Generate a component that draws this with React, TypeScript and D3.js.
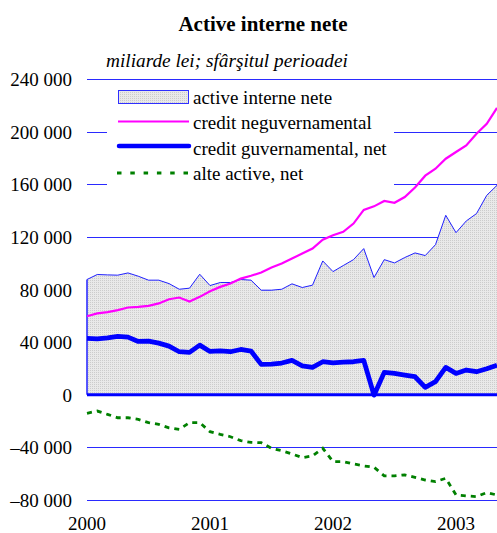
import React from "react";
import * as d3 from "d3";

const W = 497;
const H = 533;

const xTickLabels = ["2000", "2001", "2002", "2003"];
const xTickIndex = [0, 12, 24, 36];
const yTicks = [-80000, -40000, 0, 40000, 80000, 120000, 160000, 200000, 240000];

const activeInterne = [
  87600, 91400, 91100, 90900, 92600, 90100, 87100, 87100, 84500, 80200,
  81000, 91600, 83000, 85300, 85300, 87600, 87100, 79500, 79500, 80200,
  84300, 81500, 83300, 101700, 93600, 98200, 102700, 111100, 89100, 102700,
  100200, 104300, 107800, 105800, 114100, 136400, 123200, 132100, 137700, 151600,
  159200,
];

const creditNeguv = [
  59700, 61800, 62800, 64300, 66300, 66800, 67600, 69400, 72600, 73900,
  70900, 74400, 78700, 82000, 84500, 88300, 90400, 92900, 96700, 99700,
  103500, 107300, 111100, 117900, 121200, 123800, 130100, 140500, 143200, 147300,
  145900, 150300, 157500, 166500, 171800, 179400, 184500, 189500, 198400, 206000,
  218000,
];

const creditGuv = [
  42800, 42500, 43300, 44300, 43800, 40500, 40800, 39200, 37000, 32700,
  32200, 37700, 32900, 33400, 32700, 34400, 33200, 23100, 23300, 24100,
  26100, 22000, 20800, 25100, 24300, 24800, 25100, 26100, -300, 17000,
  16200, 15000, 13700, 5600, 9900, 20800, 16200, 18800, 17500, 19800,
  22500,
];

const alteActive = [
  -14100, -12400, -14900, -17500, -17500, -18700, -21200, -22500, -25100, -26300,
  -21200, -21200, -28100, -30100, -31900, -34900, -36200, -36400, -40700, -42500,
  -45000, -47800, -46500, -40700, -50800, -50800, -52600, -54100, -55100, -61700,
  -61700, -60900, -62800, -64800, -66000, -63500, -76200, -76900, -77400, -74400,
  -76200,
];

const legendLabels = [
  "active interne nete",
  "credit neguvernamental",
  "credit guvernamental, net",
  "alte active, net",
];

const fmt = (v: number) => {
  const s = Math.abs(v)
    .toString()
    .replace(/\B(?=(\d{3})+(?!\d))/g, " ");
  return v < 0 ? "\u2013" + s : s;
};

export default function App() {
  const x = d3.scaleLinear().domain([0, 40]).range([87, 497]);
  const y = d3.scaleLinear().domain([-80000, 240000]).range([500, 79]);
  const idx = activeInterne.map((_, i) => i);

  const area = d3
    .area<number>()
    .x((i) => x(i))
    .y0(() => y(0))
    .y1((i) => y(activeInterne[i]))(idx) as string;
  const lineOf = (arr: number[]) =>
    d3
      .line<number>()
      .x((i) => x(i))
      .y((i) => y(arr[i]))(idx) as string;

  const font = "'Liberation Serif', 'Times New Roman', serif";
  const legendY = [97, 121.5, 146, 173];
  const legendBase = [103.5, 129, 154.5, 180];

  return (
    <svg
      width={W}
      height={H}
      style={{ position: "fixed", left: 0, top: 0, background: "#fff" }}
      fontFamily={font}
    >
      <defs>
        <pattern id="dots" width="2" height="2" patternUnits="userSpaceOnUse">
          <rect width="2" height="2" fill="#e9e9e9" />
          <rect width="1" height="1" fill="#cccccc" />
        </pattern>
      </defs>
      <rect width={W} height={H} fill="#fff" />
      <text x={263} y={31} textAnchor="middle" fontWeight="bold" fontSize={21}>
        Active interne nete
      </text>
      <text x={106} y={67} fontStyle="italic" fontSize={19.3}>
        miliarde lei; sfârşitul perioadei
      </text>
      {yTicks.map((t) => (
        <g key={t}>
          {t !== 0 && (
            <line
              x1={87}
              x2={497}
              y1={Math.round(y(t)) + 0.5}
              y2={Math.round(y(t)) + 0.5}
              stroke="#2a2aff"
              strokeWidth={1}
            />
          )}
          <text x={72} y={y(t) + 7} textAnchor="end" fontSize={19}>
            {fmt(t)}
          </text>
        </g>
      ))}
      {xTickIndex.map((i, k) => (
        <text key={i} x={x(i)} y={530} textAnchor="middle" fontSize={19}>
          {xTickLabels[k]}
        </text>
      ))}
      <rect x={107} y={83} width={287} height={108} fill="#fff" />
      <path d={area} fill="url(#dots)" stroke="none" />
      <path
        d={lineOf(activeInterne)}
        fill="none"
        stroke="#2020ff"
        strokeWidth={1}
      />
      <line
        x1={x(0)}
        x2={x(0)}
        y1={y(0)}
        y2={y(activeInterne[0])}
        stroke="#2020ff"
        strokeWidth={1.5}
      />
      <line
        x1={x(0)}
        x2={497}
        y1={y(0)}
        y2={y(0)}
        stroke="#0000ff"
        strokeWidth={3}
      />
      <path
        d={lineOf(creditNeguv)}
        fill="none"
        stroke="#ff00ff"
        strokeWidth={2.2}
      />
      <path
        d={lineOf(alteActive)}
        fill="none"
        stroke="#008000"
        strokeWidth={2.8}
        strokeDasharray="5 5"
      />
      <path
        d={lineOf(creditGuv)}
        fill="none"
        stroke="#0000ff"
        strokeWidth={4.8}
        strokeLinejoin="round"
      />
      {/* legend */}
      <rect
        x={118.5}
        y={90.5}
        width={70}
        height={13}
        fill="url(#dots)"
        stroke="#3030ff"
        strokeWidth={1}
      />
      <line x1={118} x2={189} y1={legendY[1]} y2={legendY[1]} stroke="#ff00ff" strokeWidth={2.2} />
      <line
        x1={119}
        x2={189}
        y1={legendY[2]}
        y2={legendY[2]}
        stroke="#0000ff"
        strokeWidth={4.5}
        strokeLinecap="round"
      />
      <line
        x1={117}
        x2={191}
        y1={legendY[3]}
        y2={legendY[3]}
        stroke="#008000"
        strokeWidth={2.8}
        strokeDasharray="4.5 8.8"
      />
      {legendLabels.map((l, k) => (
        <text key={l} x={193} y={legendBase[k]} fontSize={19}>
          {l}
        </text>
      ))}
    </svg>
  );
}
